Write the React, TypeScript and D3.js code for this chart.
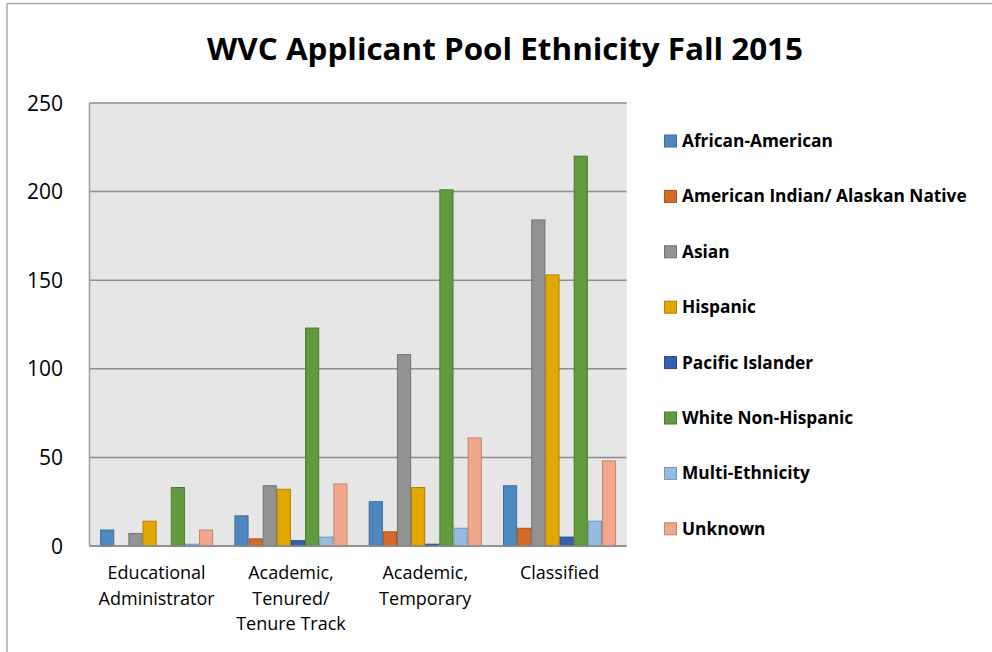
import React from "react";
import * as d3 from "d3";

const categories: string[][] = [
  ["Educational", "Administrator"],
  ["Academic,", "Tenured/", "Tenure Track"],
  ["Academic,", "Temporary"],
  ["Classified"],
];
const categoryKeys = ["Educational Administrator", "Academic, Tenured/ Tenure Track", "Academic, Temporary", "Classified"];

const seriesNames = [
  "African-American",
  "American Indian/ Alaskan Native",
  "Asian",
  "Hispanic",
  "Pacific Islander",
  "White Non-Hispanic",
  "Multi-Ethnicity",
  "Unknown",
];

const africanAmerican = [9, 17, 25, 34];
const americanIndian = [0, 4, 8, 10];
const asian = [7, 34, 108, 184];
const hispanic = [14, 32, 33, 153];
const pacificIslander = [0, 3, 1, 5];
const whiteNonHispanic = [33, 123, 201, 220];
const multiEthnicity = [1, 5, 10, 14];
const unknown = [9, 35, 61, 48];

const seriesValues = [africanAmerican, americanIndian, asian, hispanic, pacificIslander, whiteNonHispanic, multiEthnicity, unknown];

const yTicks = [0, 50, 100, 150, 200, 250];

const fills = ["#4f87c0", "#d46b2b", "#939393", "#e2a800", "#3461ad", "#619b3e", "#98bbe2", "#f0a78b"];
const strokes = ["#3c6b9c", "#a9521f", "#707070", "#b08300", "#254a8a", "#4a7a2e", "#7595bb", "#c4826a"];

const title = "WVC Applicant Pool Ethnicity Fall 2015";

export default function App() {
  const W = 992, H = 652;
  const left = 89.5, right = 626.7, top = 103, bottom = 546;
  const x0 = d3.scaleBand().domain(categoryKeys).range([left, right]).paddingInner(0).paddingOuter(0);
  const bw = x0.bandwidth();
  const barW = bw / 9.5;
  const x1 = d3.scaleBand().domain(seriesNames).range([barW * 0.75, bw - barW * 0.75]).padding(0);
  const y = d3.scaleLinear().domain([0, 250]).range([bottom, top]);
  const font = "'Open Sans', sans-serif";

  return (
    <svg width={W} height={H} style={{ position: "absolute", left: 0, top: 0, background: "#fff" }} fontFamily={font}>
      <rect x={0} y={0} width={W} height={H} fill="#fff" />
      {/* outer border */}
      <line x1={7} y1={3.5} x2={W} y2={3.5} stroke="#a6a6a6" strokeWidth={1.5} />
      <line x1={7} y1={3.5} x2={7} y2={H} stroke="#a6a6a6" strokeWidth={1.5} />

      <text x={505} y={60} textAnchor="middle" fontSize={31} fontWeight="bold" fill="#000" textLength={596} lengthAdjust="spacingAndGlyphs">{title}</text>

      {/* plot area */}
      <rect x={left} y={top} width={right - left} height={bottom - top} fill="#e6e6e6" />
      {yTicks.map((t) => (
        <g key={t}>
          <line x1={left} x2={right} y1={y(t)} y2={y(t)} stroke="#8c8c8c" strokeWidth={1.5} />
          <text x={63} y={y(t) + 7.5} textAnchor="end" fontSize={21} fill="#000">{t}</text>
        </g>
      ))}
      <line x1={left} x2={left} y1={top} y2={bottom} stroke="#9a9a9a" strokeWidth={1.5} />

      {categoryKeys.map((c, ci) => (
        <g key={c} transform={`translate(${x0(c)},0)`}>
          {seriesNames.map((s, si) => {
            const v = seriesValues[si][ci];
            if (v <= 0) return null;
            return (
              <rect key={s} x={(x1(s) as number) + 0.5} y={y(v)} width={barW - 1} height={y(0) - y(v)} fill={fills[si]} stroke={strokes[si]} strokeWidth={1} />
            );
          })}
          {categories[ci].map((line, li) => (
            <text key={li} x={bw / 2} y={579 + li * 25.7} textAnchor="middle" fontSize={18} fill="#000">{line}</text>
          ))}
        </g>
      ))}
      <line x1={left} x2={right} y1={bottom} y2={bottom} stroke="#8c8c8c" strokeWidth={1.5} />

      {/* legend */}
      {seriesNames.map((s, i) => {
        const cy = 141 + i * 55.4;
        return (
          <g key={s}>
            <rect x={664.5} y={cy - 6} width={12} height={12} fill={fills[i]} stroke={strokes[i]} strokeWidth={1} />
            <text x={682} y={cy + 6} fontSize={17.3} fontWeight="bold" fill="#000">{s}</text>
          </g>
        );
      })}
    </svg>
  );
}
